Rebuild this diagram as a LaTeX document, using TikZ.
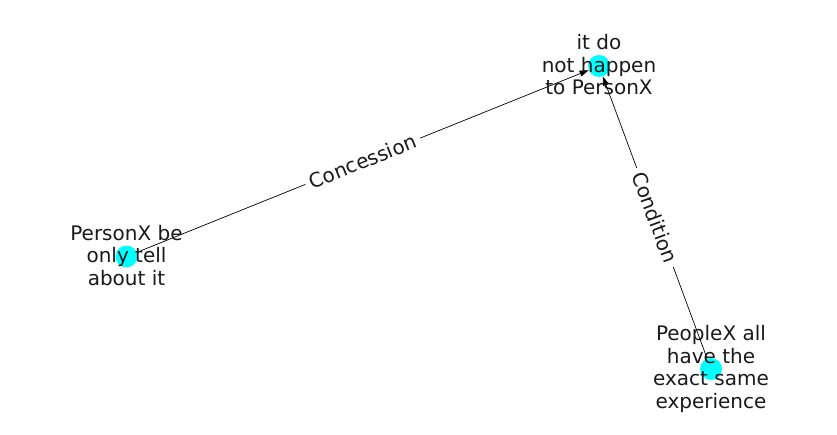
\documentclass[tikz,border=0pt]{standalone}
\usepackage{fontspec}
\setmainfont{DejaVu Sans}
\usetikzlibrary{arrows.meta}
\definecolor{nodecyan}{RGB}{0,255,255}
\definecolor{txt}{RGB}{26,26,26}
\tikzset{
  dot/.style={circle, fill=nodecyan, draw=none, minimum size=22pt, inner sep=0pt},
  lbl/.style={align=center, text=txt, font=\fontsize{20pt}{22.5pt}\selectfont, inner sep=0pt},
  conn/.style={draw=black, line width=0.7pt, -{Triangle[length=9pt,width=6pt]}},
  elbl/.style={fill=white, text=txt, font=\fontsize{20pt}{22.5pt}\selectfont, inner xsep=5pt, inner ysep=3pt, sloped}
}
\begin{document}
\begin{tikzpicture}[x=1pt,y=-1pt]
\useasboundingbox (0,0) rectangle (837,434);
\node[dot] (a) at (599,66) {};
\node[dot] (b) at (126.5,256.5) {};
\node[dot] (c) at (711,369) {};
\draw[conn] (b) -- node[elbl] {Concession} (a);
\draw[conn] (c) -- node[elbl] {Condition} (a);
\node[lbl] (ta) at (599,65) {it do\\not happen\\to PersonX};
\node[lbl] (tb) at (126.5,255.5) {PersonX be\\only tell\\about it};
\node[lbl] (tc) at (711,369) {PeopleX all\\have the\\exact same\\experience};
\end{tikzpicture}
\end{document}
